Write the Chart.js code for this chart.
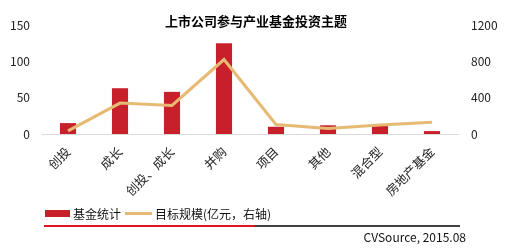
<!DOCTYPE html>
<html><head><meta charset="utf-8">
<script src="https://cdn.jsdelivr.net/npm/chart.js@4"></script>
<style>html,body{margin:0;padding:0;background:#fff}#wrap{width:506px;height:252px;position:relative}</style>
</head><body><div id="wrap"><canvas id="c" width="506" height="252"></canvas></div>
<script>
const categories = ['创投','成长','创投、成长','并购','项目','其他','混合型','房地产基金'];
const fundCount = [15, 63, 58, 125, 10, 12, 13, 4];
const targetScale = [35, 340, 315, 820, 105, 60, 100, 130];
const leftTicks = [0, 50, 100, 150];
const rightTicks = [0, 400, 800, 1200];
const titleText = '上市公司参与产业基金投资主题';
const barLabel = '基金统计';
const lineLabel = '目标规模(亿元，右轴)';
const sourceText = 'CVSource, 2015.08';

const FONT = "'Noto Sans CJK SC', 'Noto Sans', sans-serif";
const BAR = '#C8202B';
const LINE = '#E6BA72';

const deco = {
  id: 'deco',
  afterDraw(chart) {
    const ctx = chart.ctx;
    ctx.save();
    ctx.fillStyle = '#000';
    ctx.font = 'bold 13px ' + FONT;
    ctx.textAlign = 'center';
    ctx.textBaseline = 'middle';
    ctx.fillText(titleText, 256, 21);
    // legend
    ctx.font = '12px ' + FONT;
    ctx.textAlign = 'left';
    ctx.fillStyle = BAR;
    ctx.fillRect(45, 210, 25, 7);
    ctx.fillStyle = '#111';
    ctx.fillText(barLabel, 73, 214);
    ctx.strokeStyle = LINE; ctx.lineWidth = 3;
    ctx.beginPath(); ctx.moveTo(125, 213.5); ctx.lineTo(152, 213.5); ctx.stroke();
    ctx.fillText(lineLabel, 155, 214);
    // rule lines
    ctx.lineWidth = 2; ctx.strokeStyle = '#E0141E';
    ctx.beginPath(); ctx.moveTo(44, 226); ctx.lineTo(255, 226); ctx.stroke();
    ctx.lineWidth = 1.5; ctx.strokeStyle = '#000';
    ctx.beginPath(); ctx.moveTo(255, 226); ctx.lineTo(460, 226); ctx.stroke();
    ctx.textAlign = 'right';
    ctx.fillStyle = '#111';
    ctx.fillText(sourceText, 466, 237);
    ctx.restore();
  }
};

new Chart(document.getElementById('c'), {
  data: {
    labels: categories,
    datasets: [
      { type: 'line', label: lineLabel, data: targetScale, yAxisID: 'y1', borderColor: LINE, backgroundColor: LINE,
        borderWidth: 3, pointRadius: 0, tension: 0, order: 0 },
      { type: 'bar', label: barLabel, data: fundCount, yAxisID: 'y', backgroundColor: BAR,
        barPercentage: 0.62, categoryPercentage: 0.5, order: 1 }
    ]
  },
  options: {
    responsive: false, animation: false,
    layout: { padding: { top: 25, left: 0, right: 0, bottom: 0 } },
    plugins: { legend: { display: false }, title: { display: false }, tooltip: { enabled: false } },
    scales: {
      x: {
        grid: { display: false, drawTicks: false },
        border: { display: true, color: '#D9D9D9', width: 1 },
        ticks: { color: '#222', font: { family: FONT, size: 12.5 }, maxRotation: 45, minRotation: 45, padding: 10, autoSkip: false },
        afterFit(s) { s.height = 118; }
      },
      y: {
        position: 'left', min: 0, max: 150,
        afterBuildTicks(s) { s.ticks = leftTicks.map(v => ({ value: v })); },
        grid: { display: false, drawTicks: false }, border: { display: false },
        ticks: { color: '#222', font: { family: FONT, size: 12 }, padding: 12, callback: v => String(v) },
        afterFit(s) { s.width = 42; }
      },
      y1: {
        position: 'right', min: 0, max: 1200,
        afterBuildTicks(s) { s.ticks = rightTicks.map(v => ({ value: v })); },
        grid: { display: false, drawTicks: false }, border: { display: false },
        ticks: { color: '#222', font: { family: FONT, size: 12 }, padding: 13, callback: v => String(v) },
        afterFit(s) { s.width = 48; }
      }
    }
  },
  plugins: [deco]
});
</script></body></html>
